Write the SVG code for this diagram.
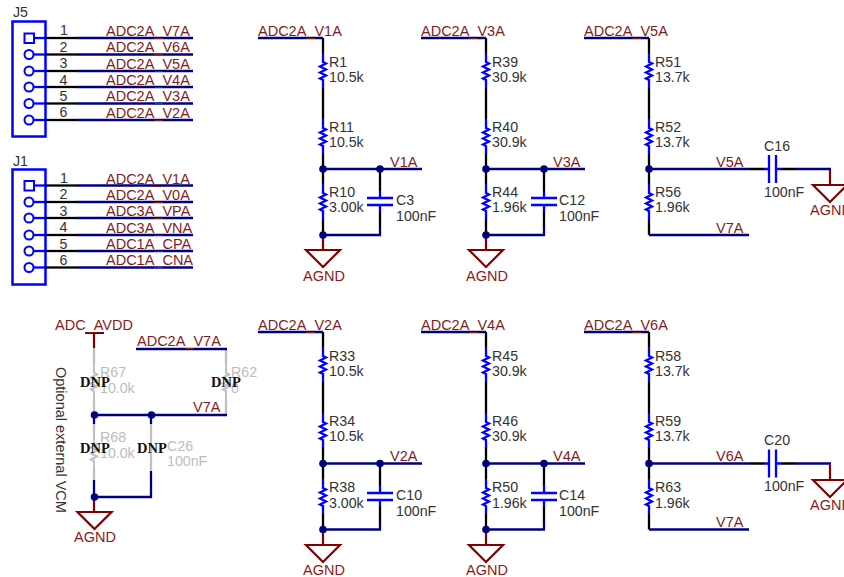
<svg xmlns="http://www.w3.org/2000/svg" width="844" height="577" viewBox="0 0 844 577">
<style>
text{font-family:"Liberation Sans",Arial,sans-serif;font-size:14.2px;fill:#333}
.net{font-size:14.5px;fill:#7f1d1d}
.pwr{font-size:14.5px;fill:#8b1a1a}
.dim{fill:#bcbcbc}
.dnp{font-family:"Liberation Serif","Times New Roman",serif;font-size:14.5px;font-weight:bold;fill:#111}
.w{fill:none;stroke:#00007f;stroke-width:2.300}
.k{fill:none;stroke:#000;stroke-width:2.300}
.g{fill:none;stroke:#c0c0c0;stroke-width:2.300}
.b{fill:none;stroke:#0000ff;stroke-width:2.300}
.r{fill:none;stroke:#0000ff;stroke-width:2.300}
.rg{fill:none;stroke:#c0c0c0;stroke-width:2}
.p{fill:none;stroke:#7f0000;stroke-width:2.200}
.j{fill:#00007f}
</style>
<defs>
<path id="res" d="M0 0V9l3 1.500-6 3 6 3-6 3 6 3-6 3 3 1.500V35"/>
<circle id="dot" r="3.800"/>
<path id="gnd" d="M-17 0H17L0 17Z"/>
<g id="pin"><path class="b" d="M34 0H45"/><path class="k" d="M45 0H77"/><path class="w" d="M77 0H193"/></g>
<path id="capv" d="M-13 0H13M-13 7H13"/>
<path id="caph" d="M0-14V14M7-14V14"/>
</defs>

<g id="connectors">
<path class="w" d="M258 38H323M421 38H486M584 38H649"/>
<path class="k" d="M323 38V53M323 88V119M323 153V184M323 219V235M486 38V53M486 88V119M486 153V184M486 219V235M649 38V53M649 88V119M649 153V184M649 219V235"/>
<path class="w" d="M323 169H422M486 169H585M649 169H750M323 235H381M486 235H545M649 235H749"/>
<path class="k" d="M380 169V191M380 211V227M544 169V191M544 211V227M750 169H764M781 169H796"/>
<path class="w" d="M380 227V235M544 227V235M796 169H831"/>
<path class="b" d="M380 191V198M380 205V211M544 191V198M544 205V211M764 169H769M776 169H781"/>
<path class="w" d="M258 332H323M421 332H486M584 332H649"/>
<path class="k" d="M323 332V347M323 382V413M323 447V479M323 514V529.500M486 332V347M486 382V413M486 447V479M486 514V529.500M649 332V347M649 382V413M649 447V479M649 514V529.500"/>
<path class="w" d="M323 463.500H422M486 463.500H585M649 463.500H750M323 529.500H381M486 529.500H545M649 529.500H749"/>
<path class="k" d="M380 463.500V486M380 506V522M544 463.500V486M544 506V522M750 463.500H764M781 463.500H796"/>
<path class="w" d="M380 522V529.500M544 522V529.500M796 463.500H831"/>
<path class="b" d="M380 486V493M380 500V506M544 486V493M544 500V506M764 463.500H769M776 463.500H781"/>
<path class="p" d="M323 235V250M486 235V250M830 170V185M323 529.500V545M486 529.500V545M830 464.500V480M94 497V512"/>
<path class="p" d="M85 333H104M94 333V348"/>
<path class="g" d="M94 348V364M94 399V415M94 424V434M94 469V480M151 424V471M226 349V364M226 399V415"/>
<path class="w" d="M94 415V424M136 349H227M94 415H227M151 415V424M94 480V497M94 497H151V471"/>
</g>

<g id="J5">
<rect x="12.500" y="21.500" width="33" height="115" fill="none" stroke="#0000ff" stroke-width="2.500"/>
<rect x="24.500" y="33.500" width="9.500" height="9.500" fill="none" stroke="#0000ff" stroke-width="2"/>
<g fill="none" stroke="#0000ff" stroke-width="2"><circle cx="29" cy="54.500" r="4.500"/><circle cx="29" cy="71" r="4.500"/><circle cx="29" cy="87" r="4.500"/><circle cx="29" cy="103.500" r="4.500"/><circle cx="29" cy="120" r="4.500"/></g>
<use href="#pin" y="38"/><use href="#pin" y="54.500"/><use href="#pin" y="71"/><use href="#pin" y="87"/><use href="#pin" y="103.500"/><use href="#pin" y="120"/>
<text x="13" y="17">J5</text>
<text x="60" y="35">1</text><text x="59.500" y="52">2</text><text x="59.500" y="68">3</text><text x="59.500" y="85">4</text><text x="59.500" y="101">5</text><text x="59.500" y="117">6</text>
<text class="net" x="106" y="36">ADC2A_V7A</text><text class="net" x="106" y="52">ADC2A_V6A</text><text class="net" x="106" y="69">ADC2A_V5A</text><text class="net" x="106" y="85">ADC2A_V4A</text><text class="net" x="106" y="101">ADC2A_V3A</text><text class="net" x="106" y="118">ADC2A_V2A</text>
</g>

<g id="J1">
<rect x="12.500" y="169.500" width="33" height="115" fill="none" stroke="#0000ff" stroke-width="2.500"/>
<rect x="24.500" y="181" width="9.500" height="9.500" fill="none" stroke="#0000ff" stroke-width="2"/>
<g fill="none" stroke="#0000ff" stroke-width="2"><circle cx="29" cy="202" r="4.500"/><circle cx="29" cy="218" r="4.500"/><circle cx="29" cy="235" r="4.500"/><circle cx="29" cy="251" r="4.500"/><circle cx="29" cy="267.500" r="4.500"/></g>
<use href="#pin" y="185.500"/><use href="#pin" y="202"/><use href="#pin" y="218"/><use href="#pin" y="235"/><use href="#pin" y="251"/><use href="#pin" y="267.500"/>
<text x="13" y="166">J1</text>
<text x="60" y="183">1</text><text x="59.500" y="199">2</text><text x="59.500" y="216">3</text><text x="59.500" y="232">4</text><text x="59.500" y="249">5</text><text x="59.500" y="265">6</text>
<text class="net" x="106" y="184">ADC2A_V1A</text><text class="net" x="106" y="200">ADC2A_V0A</text><text class="net" x="106" y="216">ADC3A_VPA</text><text class="net" x="106" y="233">ADC3A_VNA</text><text class="net" x="106" y="249">ADC1A_CPA</text><text class="net" x="106" y="265">ADC1A_CNA</text>
</g>

<g id="vcm-block">
<text class="pwr" x="55" y="330">ADC_AVDD</text>
<text class="net" x="137" y="346">ADC2A_V7A</text>
<text class="net" x="193" y="412">V7A</text>
<text x="55.500" y="367" transform="rotate(90 55.500 367)" style="font-size:14.500px">Optional external VCM</text>
<g id="R67"><use href="#res" x="94" y="364" class="rg"/><text class="dim" x="100" y="377">R67</text><text class="dim" x="100" y="393">10.0k</text><text class="dnp" x="80" y="387">DNP</text></g>
<g id="R62"><use href="#res" x="226" y="364" class="rg"/><text class="dim" x="231" y="377">R62</text><text class="dim" x="231" y="393">0</text><text class="dnp" x="211" y="387">DNP</text></g>
<g id="R68"><use href="#res" x="94" y="434" class="rg"/><text class="dim" x="100" y="442">R68</text><text class="dim" x="100" y="458">10.0k</text><text class="dnp" x="80" y="453">DNP</text></g>
<g id="C26"><text class="dim" x="167" y="451">C26</text><text class="dim" x="167" y="466">100nF</text><text class="dnp" x="137" y="453">DNP</text></g>
<use href="#dot" x="94.500" y="415" class="j"/><use href="#dot" x="151.500" y="415" class="j"/><use href="#dot" x="94.500" y="497" class="j"/>
<g id="gnd7"><use href="#gnd" x="94.500" y="512" class="p"/><text class="pwr" x="74" y="542">AGND</text></g>
</g>

<g id="col1-top">
<text class="net" x="258" y="35.500">ADC2A_V1A</text><text class="net" x="390" y="167">V1A</text>
<g id="R1"><use href="#res" x="323" y="53" class="r"/><text x="329" y="67">R1</text><text x="329" y="82">10.5k</text></g>
<g id="R11"><use href="#res" x="323" y="119" class="r"/><text x="329" y="132">R11</text><text x="329" y="147">10.5k</text></g>
<g id="R10"><use href="#res" x="323" y="184" class="r"/><text x="329" y="197">R10</text><text x="329" y="212">3.00k</text></g>
<g id="C3"><use href="#capv" x="380" y="198" class="b"/><text x="396" y="205">C3</text><text x="396" y="221">100nF</text></g>
<use href="#dot" x="323" y="169" class="j"/><use href="#dot" x="380" y="169" class="j"/><use href="#dot" x="323" y="235" class="j"/>
<g id="gnd1"><use href="#gnd" x="323" y="250" class="p"/><text class="pwr" x="303" y="281">AGND</text></g>
</g>

<g id="col2-top">
<text class="net" x="421" y="35.500">ADC2A_V3A</text><text class="net" x="553" y="167">V3A</text>
<g id="R39"><use href="#res" x="486" y="53" class="r"/><text x="492" y="67">R39</text><text x="492" y="82">30.9k</text></g>
<g id="R40"><use href="#res" x="486" y="119" class="r"/><text x="492" y="132">R40</text><text x="492" y="147">30.9k</text></g>
<g id="R44"><use href="#res" x="486" y="184" class="r"/><text x="492" y="197">R44</text><text x="492" y="212">1.96k</text></g>
<g id="C12"><use href="#capv" x="544" y="198" class="b"/><text x="559" y="205">C12</text><text x="559" y="221">100nF</text></g>
<use href="#dot" x="486" y="169" class="j"/><use href="#dot" x="544" y="169" class="j"/><use href="#dot" x="486" y="235" class="j"/>
<g id="gnd2"><use href="#gnd" x="486" y="250" class="p"/><text class="pwr" x="466" y="281">AGND</text></g>
</g>

<g id="col3-top">
<text class="net" x="584" y="35.500">ADC2A_V5A</text><text class="net" x="716" y="167">V5A</text><text class="net" x="716" y="233">V7A</text>
<g id="R51"><use href="#res" x="649" y="53" class="r"/><text x="655" y="67">R51</text><text x="655" y="82">13.7k</text></g>
<g id="R52"><use href="#res" x="649" y="119" class="r"/><text x="655" y="132">R52</text><text x="655" y="147">13.7k</text></g>
<g id="R56"><use href="#res" x="649" y="184" class="r"/><text x="655" y="197">R56</text><text x="655" y="212">1.96k</text></g>
<g id="C16"><use href="#caph" x="769" y="169" class="b"/><text x="764" y="151">C16</text><text x="764" y="197">100nF</text></g>
<use href="#dot" x="649" y="169" class="j"/>
<g id="gnd3"><use href="#gnd" x="830" y="185" class="p"/><text class="pwr" x="810" y="215">AGND</text></g>
</g>

<g id="col1-bottom">
<text class="net" x="258" y="329.500">ADC2A_V2A</text><text class="net" x="390" y="461">V2A</text>
<g id="R33"><use href="#res" x="323" y="347" class="r"/><text x="329" y="361">R33</text><text x="329" y="376">10.5k</text></g>
<g id="R34"><use href="#res" x="323" y="413" class="r"/><text x="329" y="426">R34</text><text x="329" y="441">10.5k</text></g>
<g id="R38"><use href="#res" x="323" y="479" class="r"/><text x="329" y="492">R38</text><text x="329" y="507.500">3.00k</text></g>
<g id="C10"><use href="#capv" x="380" y="493" class="b"/><text x="396" y="500">C10</text><text x="396" y="516">100nF</text></g>
<use href="#dot" x="323" y="463.500" class="j"/><use href="#dot" x="380" y="463.500" class="j"/><use href="#dot" x="323" y="529.500" class="j"/>
<g id="gnd4"><use href="#gnd" x="323" y="545" class="p"/><text class="pwr" x="303" y="575">AGND</text></g>
</g>

<g id="col2-bottom">
<text class="net" x="421" y="329.500">ADC2A_V4A</text><text class="net" x="553" y="461">V4A</text>
<g id="R45"><use href="#res" x="486" y="347" class="r"/><text x="492" y="361">R45</text><text x="492" y="376">30.9k</text></g>
<g id="R46"><use href="#res" x="486" y="413" class="r"/><text x="492" y="426">R46</text><text x="492" y="441">30.9k</text></g>
<g id="R50"><use href="#res" x="486" y="479" class="r"/><text x="492" y="492">R50</text><text x="492" y="507.500">1.96k</text></g>
<g id="C14"><use href="#capv" x="544" y="493" class="b"/><text x="559" y="500">C14</text><text x="559" y="516">100nF</text></g>
<use href="#dot" x="486" y="463.500" class="j"/><use href="#dot" x="544" y="463.500" class="j"/><use href="#dot" x="486" y="529.500" class="j"/>
<g id="gnd5"><use href="#gnd" x="486" y="545" class="p"/><text class="pwr" x="466" y="575">AGND</text></g>
</g>

<g id="col3-bottom">
<text class="net" x="584" y="329.500">ADC2A_V6A</text><text class="net" x="716" y="461">V6A</text><text class="net" x="716" y="526.500">V7A</text>
<g id="R58"><use href="#res" x="649" y="347" class="r"/><text x="655" y="361">R58</text><text x="655" y="376">13.7k</text></g>
<g id="R59"><use href="#res" x="649" y="413" class="r"/><text x="655" y="426">R59</text><text x="655" y="441">13.7k</text></g>
<g id="R63"><use href="#res" x="649" y="479" class="r"/><text x="655" y="492">R63</text><text x="655" y="507.500">1.96k</text></g>
<g id="C20"><use href="#caph" x="769" y="463.500" class="b"/><text x="764" y="445">C20</text><text x="764" y="491">100nF</text></g>
<use href="#dot" x="649" y="463.500" class="j"/>
<g id="gnd6"><use href="#gnd" x="830" y="480" class="p"/><text class="pwr" x="810" y="510">AGND</text></g>
</g>
</svg>
